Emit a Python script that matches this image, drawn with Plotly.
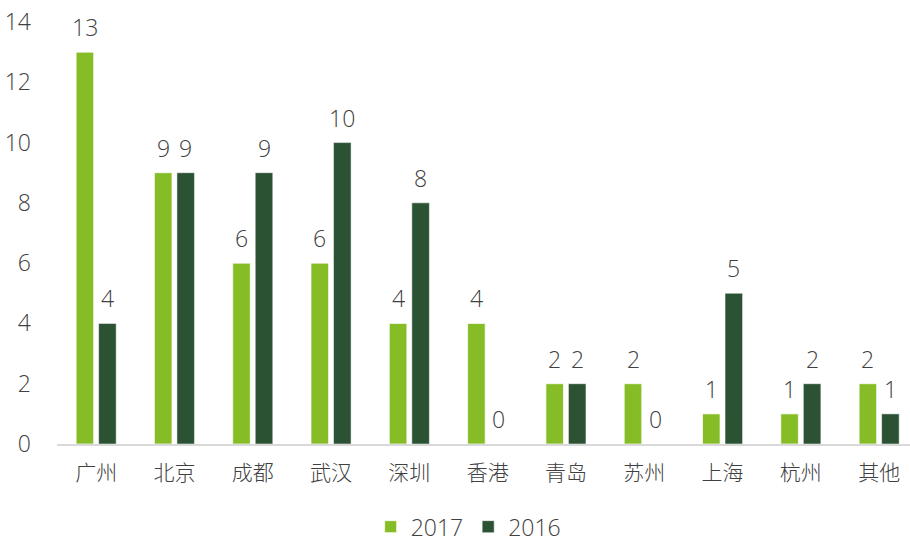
import plotly.graph_objects as go

categories = ["广州", "北京", "成都", "武汉", "深圳", "香港", "青岛", "苏州", "上海", "杭州", "其他"]
values_2017 = [13, 9, 6, 6, 4, 4, 2, 2, 1, 1, 2]
values_2016 = [4, 9, 9, 10, 8, 0, 2, 0, 5, 2, 1]
y_ticks = [0, 2, 4, 6, 8, 10, 12, 14]

C17 = "#86BC25"
C16 = "#2C5234"
FONT = "Open Sans, Noto Sans CJK SC, sans-serif"
TXT = "#404040"

fig = go.Figure()
fig.add_trace(go.Bar(x=categories, y=values_2017, name="2017",
                     marker=dict(color=C17, line=dict(color="rgba(255,255,255,0.7)", width=1))))
fig.add_trace(go.Bar(x=categories, y=values_2016, name="2016",
                     marker=dict(color=C16, line=dict(color="rgba(255,255,255,0.5)", width=1))))

annotations = []
for vals, shift in ((values_2017, -11.25), (values_2016, 11.25)):
    for c, v in zip(categories, vals):
        annotations.append(dict(x=c, y=v, xref="x", yref="y", text=str(v), showarrow=False,
                                xshift=shift, yshift=25, yanchor="middle",
                                font=dict(family=FONT, size=23, color=TXT, weight=300)))

fig.update_layout(
    width=910, height=543,
    margin=dict(l=57, r=0, t=22, b=99),
    paper_bgcolor="white", plot_bgcolor="white",
    barmode="group", bargap=0.425, bargroupgap=0.22,
    font=dict(family=FONT, size=23, color=TXT, weight=300),
    annotations=annotations,
    xaxis=dict(range=[-0.5, 10.394], showgrid=False, showline=True, linecolor="#d9d9d9", linewidth=2,
               ticks="", tickfont=dict(size=21, color=TXT, weight=300), ticklabelstandoff=9),
    yaxis=dict(range=[0, 14], tickvals=y_ticks, showgrid=False, zeroline=False, showline=False,
               ticks="", ticklabelstandoff=25, tickfont=dict(size=23, color=TXT, weight=300)),
    legend=dict(orientation="h", xref="container", yref="container", x=0.515, xanchor="center",
                y=0.03, yanchor="middle", font=dict(size=23, color=TXT, weight=300), itemwidth=30),
    showlegend=True,
)
fig.write_html("out.html", config={"displayModeBar": False},
               post_script="document.body.style.margin='0';document.body.style.overflow='hidden';")
